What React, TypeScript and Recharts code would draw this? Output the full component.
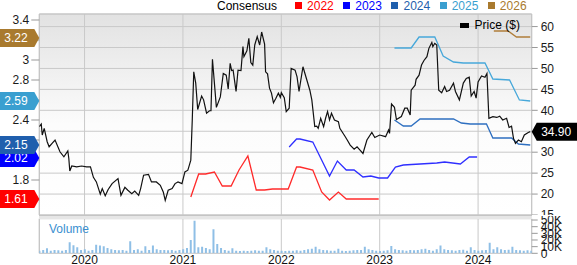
import React from 'react';
import {
  ComposedChart,
  BarChart,
  Bar,
  Line,
  XAxis,
  YAxis,
  CartesianGrid,
  ReferenceDot,
  ReferenceArea,
} from 'recharts';

const FONT = '"Liberation Sans", Arial, Helvetica, sans-serif';
const X_MIN = 2019.54;
const X_MAX = 2024.545;

// ---------- axis ticks ----------
const yearTicks = [2020, 2021, 2022, 2023, 2024];
const priceTicks = [15, 20, 25, 30, 35, 40, 45, 50, 55, 60];
const epsTicks = [1.6, 1.8, 2.0, 2.2, 2.4, 2.6, 2.8, 3.0, 3.2, 3.4];
const volumeTicks = [0, 10, 20, 30, 40, 50];

// ---------- price ($) ----------
const priceDates = [
  2019.54, 2019.56, 2019.57, 2019.59, 2019.62, 2019.64, 2019.67, 2019.70, 2019.75, 2019.79,
  2019.83, 2019.84, 2019.85, 2019.87, 2019.92, 2019.97, 2020.02, 2020.06, 2020.09, 2020.12,
  2020.16, 2020.18, 2020.21, 2020.24, 2020.28, 2020.34, 2020.37, 2020.41, 2020.44, 2020.48,
  2020.51, 2020.55, 2020.57, 2020.60, 2020.65, 2020.68, 2020.73, 2020.77, 2020.80, 2020.82,
  2020.85, 2020.89, 2020.92, 2020.95, 2020.99, 2021.02, 2021.05, 2021.06, 2021.08, 2021.095,
  2021.11, 2021.13, 2021.15, 2021.19, 2021.21, 2021.24, 2021.27, 2021.285, 2021.30, 2021.34,
  2021.38, 2021.41, 2021.44, 2021.46, 2021.48, 2021.495, 2021.51, 2021.54, 2021.56, 2021.59,
  2021.61, 2021.62, 2021.65, 2021.67, 2021.69, 2021.71, 2021.73, 2021.755, 2021.78, 2021.80,
  2021.83, 2021.84, 2021.86, 2021.88, 2021.90, 2021.92, 2021.945, 2021.97, 2021.99, 2022.00,
  2022.03, 2022.05, 2022.08, 2022.10, 2022.14, 2022.16, 2022.18, 2022.22, 2022.24, 2022.29,
  2022.31, 2022.34, 2022.36, 2022.375, 2022.40, 2022.43, 2022.45, 2022.47, 2022.49, 2022.51,
  2022.54, 2022.58, 2022.595, 2022.65, 2022.67, 2022.70, 2022.74, 2022.77, 2022.80, 2022.83,
  2022.87, 2022.92, 2022.95, 2023.00, 2023.06, 2023.09, 2023.10, 2023.12, 2023.15, 2023.17,
  2023.22, 2023.255, 2023.28, 2023.31, 2023.32, 2023.36, 2023.37, 2023.40, 2023.425, 2023.45,
  2023.48, 2023.50, 2023.53, 2023.54, 2023.56, 2023.58, 2023.60, 2023.63, 2023.66, 2023.68,
  2023.71, 2023.75, 2023.77, 2023.81, 2023.85, 2023.88, 2023.91, 2023.93, 2023.96, 2023.98,
  2024.00, 2024.035, 2024.07, 2024.09, 2024.11, 2024.15, 2024.19, 2024.22, 2024.25, 2024.29,
  2024.315, 2024.34, 2024.36, 2024.38, 2024.41, 2024.44, 2024.47, 2024.51, 2024.53,
];
const priceValues = [
  36.1, 36.7, 34.1, 35.7, 32.5, 31.3, 32.1, 32.9, 30.1, 28.9,
  30.3, 28.5, 25.5, 26.7, 26.5, 26.7, 26.5, 26.5, 24.0, 22.9,
  20.0, 21.3, 19.6, 21.1, 22.5, 23.7, 19.7, 21.6, 20.9, 20.1,
  20.7, 19.7, 21.3, 24.5, 24.7, 22.9, 22.9, 22.1, 20.5, 18.5,
  20.9, 21.3, 22.5, 22.9, 22.5, 25.3, 25.7, 26.5, 28.1, 37.8,
  49.2, 46.5, 40.2, 43.4, 42.5, 39.3, 39.9, 39.9, 52.2, 40.7,
  43.2, 48.8, 48.4, 45.1, 51.2, 49.5, 49.6, 44.5, 49.6, 49.5,
  55.2, 52.8, 54.2, 57.2, 51.4, 50.8, 55.6, 57.6, 55.6, 58.7,
  55.8, 49.2, 48.7, 45.3, 44.1, 41.8, 42.9, 44.1, 43.1, 44.2,
  43.0, 39.7, 40.5, 50.0, 49.6, 48.0, 44.5, 50.4, 48.8, 44.8,
  42.5, 36.1, 36.2, 35.7, 38.1, 36.1, 38.1, 39.7, 37.7, 39.3,
  37.7, 37.3, 35.7, 33.7, 32.9, 31.7, 30.7, 31.3, 30.5, 29.7,
  32.9, 34.7, 33.5, 34.1, 33.7, 35.3, 34.5, 41.5, 40.7, 37.8,
  38.5, 40.5, 40.5, 38.9, 44.8, 46.0, 47.4, 48.4, 50.8, 51.9,
  52.8, 54.8, 56.2, 55.2, 56.0, 55.6, 44.8, 44.2, 45.7, 44.5,
  44.8, 46.5, 44.5, 42.5, 46.5, 47.6, 47.9, 43.4, 44.5, 42.9,
  46.8, 48.2, 47.9, 48.8, 38.1, 38.5, 38.3, 38.6, 37.7, 38.1,
  35.9, 36.2, 33.3, 32.1, 32.9, 32.5, 34.1, 34.7, 34.9,
];
const lastPrice = 34.9;

// ---------- consensus EPS estimates ----------
const est2022Dates = [2021.08, 2021.16, 2021.23, 2021.32, 2021.40, 2021.49, 2021.57, 2021.66, 2021.745, 2021.83, 2021.91, 2022.07, 2022.155, 2022.19, 2022.32, 2022.41, 2022.49, 2022.58, 2022.66, 2022.99];
const est2022Values = [1.63, 1.86, 1.86, 1.88, 1.74, 1.74, 1.90, 2.04, 1.70, 1.70, 1.71, 1.71, 1.93, 1.93, 1.90, 1.68, 1.60, 1.68, 1.61, 1.61];

const est2023Dates = [2022.08, 2022.155, 2022.19, 2022.32, 2022.49, 2022.57, 2022.66, 2022.74, 2022.83, 2022.91, 2022.99, 2023.08, 2023.16, 2023.24, 2023.41, 2023.58, 2023.66, 2023.82, 2023.91, 2023.99];
const est2023Values = [2.13, 2.21, 2.21, 2.18, 1.84, 1.99, 1.90, 1.90, 1.83, 1.84, 1.82, 1.82, 1.93, 1.95, 1.96, 1.97, 1.98, 1.96, 2.03, 2.03];

const est2024Dates = [2023.15, 2023.24, 2023.32, 2023.41, 2023.75, 2023.83, 2023.92, 2024.085, 2024.15, 2024.34, 2024.41, 2024.53];
const est2024Values = [2.40, 2.34, 2.34, 2.41, 2.41, 2.37, 2.36, 2.36, 2.22, 2.22, 2.16, 2.15];

const est2025Dates = [2023.15, 2023.32, 2023.40, 2023.56, 2023.645, 2023.75, 2023.85, 2024.07, 2024.15, 2024.32, 2024.42, 2024.53];
const est2025Values = [3.12, 3.12, 3.23, 3.23, 3.04, 2.98, 2.97, 2.97, 2.81, 2.80, 2.60, 2.59];

const est2026Dates = [2024.16, 2024.305, 2024.39, 2024.53];
const est2026Values = [3.29, 3.29, 3.23, 3.23];

const consensusYears = ['2022', '2023', '2024', '2025', '2026'];
const consensusColors = ['#ff0000', '#0000ff', '#1f5fad', '#3a9fd0', '#a97a2e'];
const lineColors = ['#ff2b2b', '#2f2fff', '#2e6fc0', '#47a8da', '#b07e3a'];
const currentConsensus = [1.61, 2.02, 2.15, 2.59, 3.22];

// ---------- volume (thousands, bi-weekly from VOL_START) ----------
const VOL_START = 2019.54;
const VOL_STEP = 1 / 26;
const volumeK = [
  4, 5, 7.5, 4, 5, 4.5, 4, 5, 16.7, 12,
  9, 5, 6, 4, 5, 13, 11.6, 10.6, 8, 6,
  5, 4.5, 5, 4, 18, 5, 6, 4, 10.6, 5,
  11.6, 6, 5, 5, 4.5, 5, 4, 5, 6, 8,
  20, 49, 9, 10, 8, 6, 36, 14, 8, 5,
  4, 7.5, 4, 3.5, 4, 3.5, 4, 4.5, 4, 4,
  9, 6, 5, 4, 4, 3.5, 4, 4, 4.5, 4,
  5, 6, 7, 10, 6, 5, 4.5, 4, 4, 7,
  4, 3.5, 4, 4.5, 5, 5, 10, 6, 5, 4,
  3.5, 4, 4.5, 11, 6, 5, 4.5, 4, 5, 4.5,
  5, 6, 7, 5, 4, 6, 11.6, 6, 5, 4.5,
  4, 5, 5.5, 4, 9, 5, 4, 4.5, 5, 16,
  6, 9, 6, 5, 5.5, 10, 5, 4.5, 4, 4.5,
  4,
];

const toSeries = (dates: number[], values: number[], key: string) =>
  dates.map((t, i) => ({ t, [key]: values[i] }));

const priceData = toSeries(priceDates, priceValues, 'price');
const estimateSeries = [
  toSeries(est2022Dates, est2022Values, 'eps'),
  toSeries(est2023Dates, est2023Values, 'eps'),
  toSeries(est2024Dates, est2024Values, 'eps'),
  toSeries(est2025Dates, est2025Values, 'eps'),
  toSeries(est2026Dates, est2026Values, 'eps'),
];
const volumeData = volumeK.map((v, i) => ({ t: VOL_START + i * VOL_STEP, vol: v }));

const tickStyle = { fontSize: 12, fill: '#1a1a1a', fontFamily: FONT };

// tick label renderers: labels sitting under a value badge are not shown (as in the original)
const makeTick = (hidden: (v: number) => boolean, fmt: (v: number) => string) => (p: any) => {
  const { x, y, payload, textAnchor } = p;
  const v = payload && payload.value;
  if (v == null || hidden(v)) return <g />;
  return (
    <text x={x} y={y} dy={4.2} textAnchor={textAnchor} fontSize={12} fill="#1a1a1a" fontFamily={FONT}>
      {fmt(v)}
    </text>
  );
};
const epsTick = makeTick(
  (v) => currentConsensus.some((c) => Math.abs(c - v) < 0.1),
  (v) => String(v)
);
const priceTick = makeTick((v) => Math.abs(v - lastPrice) < 2.6, (v) => String(v));

const LeftBadge = (props: any) => {
  const { cx, cy, color, label } = props;
  if (cx == null || cy == null) return null;
  const x0 = 0;
  const h = 9;
  const pts = `${x0},${cy - h} ${cx - 5},${cy - h} ${cx},${cy} ${cx - 5},${cy + h} ${x0},${cy + h}`;
  return (
    <g>
      <polygon points={pts} fill={color} />
      <text x={x0 + 16} y={cy + 4.3} fill="#fff" fontSize={12} fontFamily={FONT} textAnchor="middle">
        {label}
      </text>
    </g>
  );
};

const RightBadge = (props: any) => {
  const { cx, cy, label } = props;
  if (cx == null || cy == null) return null;
  const h = 9;
  const x1 = 577;
  const pts = `${cx},${cy} ${cx + 5},${cy - h} ${x1},${cy - h} ${x1},${cy + h} ${cx + 5},${cy + h}`;
  return (
    <g>
      <polygon points={pts} fill="#000" />
      <text x={cx + 24.5} y={cy + 4.3} fill="#fff" fontSize={12} fontFamily={FONT} textAnchor="middle">
        {label}
      </text>
    </g>
  );
};

export default function App() {
  return (
    <div
      style={{
        position: 'absolute',
        left: 0,
        top: 0,
        width: 577,
        height: 265,
        background: '#fff',
        fontFamily: FONT,
        overflow: 'hidden',
      }}
    >
      {/* price + consensus panel */}
      <div style={{ position: 'absolute', left: 0, top: 0 }}>
        <ComposedChart width={577} height={215} margin={{ top: 14, right: 0, bottom: 0, left: 0 }}>
          <defs>
            <linearGradient id="bgGrad" x1="0" y1="0" x2="0" y2="1">
              <stop offset="0%" stopColor="#e2e2e2" />
              <stop offset="55%" stopColor="#fcfcfc" />
              <stop offset="100%" stopColor="#ffffff" />
            </linearGradient>
          </defs>
          <XAxis
            type="number"
            dataKey="t"
            domain={[X_MIN, X_MAX]}
            ticks={yearTicks}
            allowDataOverflow
            hide
          />
          <YAxis
            yAxisId="eps"
            orientation="left"
            width={39.3}
            domain={[1.45, 3.46]}
            ticks={epsTicks}
            interval={0}
            allowDataOverflow
            axisLine={false}
            tickSize={8}
            tickMargin={2}
            tickLine={{ stroke: '#999' }}
            tick={epsTick}
          />
          <YAxis
            yAxisId="price"
            orientation="right"
            width={45.3}
            domain={[15, 63]}
            ticks={priceTicks}
            interval={0}
            allowDataOverflow
            axisLine={false}
            tickSize={6}
            tickMargin={3}
            tickLine={{ stroke: '#999' }}
            tick={priceTick}
          />
          <CartesianGrid
            yAxisId="price"
            stroke="#c9c9c9"
            fill="url(#bgGrad)"
            fillOpacity={1}
          />
          <ReferenceArea
            yAxisId="price"
            x1={X_MIN}
            x2={X_MAX}
            y1={15}
            y2={63}
            fill="none"
            stroke="#c4c4c4"
            ifOverflow="visible"
          />
          {estimateSeries.map((d, i) => (
            <Line
              key={consensusYears[i]}
              data={d}
              dataKey="eps"
              yAxisId="eps"
              stroke={lineColors[i]}
              strokeWidth={1.3}
              dot={false}
              isAnimationActive={false}
            />
          ))}
          <Line
            data={priceData}
            dataKey="price"
            yAxisId="price"
            stroke="#111"
            strokeWidth={1.2}
            dot={false}
            isAnimationActive={false}
          />
          {currentConsensus.map((v, i) => (
            <ReferenceDot
              key={'b' + consensusYears[i]}
              yAxisId="eps"
              x={X_MIN}
              y={v}
              ifOverflow="visible"
              shape={(p: any) => (
                <LeftBadge {...p} color={consensusColors[i]} label={v.toFixed(2)} />
              )}
            />
          ))}
          <ReferenceDot
            yAxisId="price"
            x={X_MAX}
            y={lastPrice}
            ifOverflow="visible"
            shape={(p: any) => <RightBadge {...p} label={lastPrice.toFixed(2)} />}
          />
        </ComposedChart>
      </div>

      {/* volume panel */}
      <div style={{ position: 'absolute', left: 0, top: 216, width: 577, height: 49, background: '#fff' }}>
        <BarChart
          width={577}
          height={49}
          data={volumeData}
          margin={{ top: 2.7, right: 0, bottom: 0, left: 39.3 }}
        >
          <XAxis
            type="number"
            dataKey="t"
            domain={[X_MIN, X_MAX]}
            ticks={yearTicks}
            allowDataOverflow
            height={11.7}
            axisLine={false}
            tickLine={false}
            tickSize={0}
            tickMargin={2}
            tick={{ ...tickStyle, fill: '#111' }}
            tickFormatter={(v: number) => String(v)}
          />
          <YAxis
            orientation="right"
            width={45.3}
            domain={[0, 52]}
            ticks={volumeTicks}
            interval={0}
            allowDataOverflow
            axisLine={false}
            tickSize={6}
            tickMargin={3}
            tickLine={{ stroke: '#999' }}
            tick={tickStyle}
            tickFormatter={(v: number) => (v === 0 ? '0' : `${v}K`)}
          />
          <CartesianGrid horizontal={false} stroke="#c9c9c9" fill="#fff" fillOpacity={1} />
          <ReferenceArea
            x1={X_MIN}
            x2={X_MAX}
            y1={0}
            y2={52}
            fill="none"
            stroke="#c4c4c4"
            ifOverflow="visible"
          />
          <Bar dataKey="vol" fill="#8fbfe6" barSize={2} isAnimationActive={false} />
        </BarChart>
      </div>

      {/* gap strip between panels */}
      <div
        style={{
          position: 'absolute',
          left: 39.3,
          top: 215,
          width: 492.4,
          height: 2.7,
          background: '#e6e6e6',
          borderTop: '1px solid #c4c4c4',
        }}
      />

      {/* Volume title */}
      <div
        style={{
          position: 'absolute',
          left: 49,
          top: 222,
          fontSize: 12,
          lineHeight: '14px',
          color: '#3a8fd0',
        }}
      >
        Volume
      </div>

      {/* top legend */}
      <div
        style={{
          position: 'absolute',
          left: 217,
          top: -0.5,
          height: 12,
          display: 'flex',
          alignItems: 'center',
          fontSize: 12,
          lineHeight: '12px',
          whiteSpace: 'nowrap',
        }}
      >
        <span style={{ color: '#000', marginRight: 18 }}>Consensus</span>
        {consensusYears.map((y, i) => (
          <span key={y} style={{ display: 'flex', alignItems: 'center', marginRight: 9.5 }}>
            <span
              style={{
                display: 'inline-block',
                width: 7,
                height: 7,
                background: consensusColors[i],
                marginRight: 5,
              }}
            />
            <span style={{ color: consensusColors[i] }}>{y}</span>
          </span>
        ))}
      </div>

      {/* price legend inside plot */}
      <div
        style={{
          position: 'absolute',
          left: 459.6,
          top: 19,
          height: 12,
          display: 'flex',
          alignItems: 'center',
          fontSize: 12,
          lineHeight: '12px',
          whiteSpace: 'nowrap',
        }}
      >
        <span style={{ display: 'inline-block', width: 9, height: 5, background: '#000', marginRight: 6 }} />
        <span style={{ color: '#000' }}>Price ($)</span>
      </div>
    </div>
  );
}
